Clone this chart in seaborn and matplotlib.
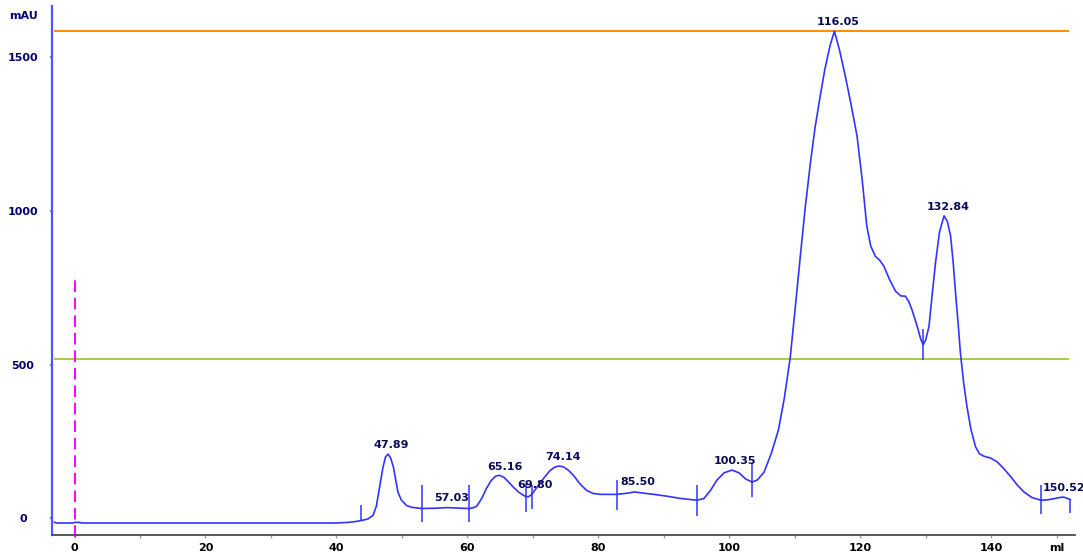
import numpy as np
import pandas as pd
import matplotlib
matplotlib.use("Agg")
import matplotlib.pyplot as plt
import seaborn as sns

# ---- chromatogram trace (ml, mAU) ----
volume_ml = [-3.1, -2.8, -0.2, 0.0, 0.8, 1.0, 20.0, 40.0, 41.8, 43.0, 43.8, 44.8, 45.6, 46.1,
             46.6, 47.1, 47.5, 47.9, 48.3, 48.7, 49.1, 49.4, 49.9, 50.7, 51.5, 53.0, 55.0,
             57.0, 59.0, 60.2, 60.8, 61.4, 62.2, 62.9, 63.6, 64.3, 64.9, 65.6, 66.3, 67.0,
             67.9, 68.8, 69.3, 69.8, 70.6, 71.6, 72.6, 73.3, 73.9, 74.6, 75.4, 76.2, 77.2,
             78.2, 79.2, 80.3, 82.8, 84.5, 85.5, 86.5, 88.5, 90.5, 92.5, 95.0, 96.1, 97.1,
             98.1, 99.2, 100.4, 101.5, 102.5, 103.5, 104.3, 105.3, 106.4, 107.5, 108.4,
             109.3, 110.1, 110.9, 111.6, 112.4, 113.1, 113.9, 114.6, 115.4, 116.05, 116.8,
             117.7, 118.6, 119.5, 120.3, 121.0, 121.6, 122.3, 123.0, 123.6, 124.5, 125.4,
             126.2, 126.9, 127.4, 127.9, 128.7, 129.2, 129.6, 130.0, 130.5, 131.0, 131.5,
             132.1, 132.8, 133.3, 133.8, 134.2, 134.6, 135.0, 135.3, 135.8, 136.3, 136.9,
             137.6, 138.2, 138.9, 139.9, 140.9, 142.0, 143.0, 144.0, 145.0, 146.2, 147.6,
             148.5, 149.6, 150.5, 151.1, 151.5, 152.1]
absorb_mau = [-12, -15, -15, -13, -13, -15, -15, -15, -13, -10, -7, -2, 10, 40,
              102, 165, 200, 209, 195, 167, 120, 85, 60, 42, 36, 32, 33,
              35, 33, 32, 34, 39, 65, 97, 122, 137, 140, 133, 118, 102,
              84, 72, 70, 77, 100, 129, 155, 166, 170, 168, 157, 140, 112,
              91, 81, 78, 78, 82, 86, 83, 78, 72, 65, 59, 64, 90,
              124, 148, 157, 148, 128, 118, 125, 150, 210, 287, 390,
              521, 690, 863, 1010, 1157, 1270, 1374, 1460, 1537, 1583, 1525,
              1439, 1345, 1244, 1100, 950, 885, 852, 838, 820, 775, 738,
              723, 722, 705, 678, 624, 585, 564, 580, 624, 730, 831,
              930, 983, 965, 918, 830, 722, 620, 537, 440, 363, 290,
              233, 210, 202, 196, 184, 160, 135, 108, 86, 68, 59,
              60, 64, 68, 69, 66, 61]

# ---- peak labels ----
peak_labels = ["47.89", "57.03", "65.16", "69.80", "74.14", "85.50", "100.35",
               "116.05", "132.84", "150.52"]
peak_ml = [47.89, 57.03, 65.16, 69.80, 74.14, 85.50, 100.35, 116.05, 132.84, 150.52]

# ---- fraction / integration marks ----
mark_ml = [43.8, 53.0, 60.2, 68.9, 69.9, 82.9, 95.0, 103.5, 129.6, 147.6, 152.1]
mark_up = [50, 75, 75, 40, 30, 45, 50, 60, 50, 50, 0]
mark_down = [0, 45, 45, 50, 50, 50, 50, 50, 50, 45, 45]

# ---- reference lines ----
orange_level = 1585
green_level = 518
injection_ml = 0
injection_top = 781

x_ticks = [0, 20, 40, 60, 80, 100, 120, 140, 150]
x_tick_labels = ["0", "20", "40", "60", "80", "100", "120", "140", "ml"]
x_minor = [10, 30, 50, 70, 90, 110, 130]
y_ticks = [0, 500, 1000, 1500]
y_tick_labels = ["0", "500", "1000", "1500"]

sns.set_theme(style="white")
plt.rcParams["font.family"] = ["DejaVu Sans"]

W, H = 1083, 556
fig = plt.figure(figsize=(W / 100, H / 100), dpi=100)
ax = fig.add_axes([52 / W, 1 - 535 / H, (1075 - 52) / W, (535 - 6) / H])

curve_color = "#3333ff"
df = pd.DataFrame({"ml": volume_ml, "mAU": absorb_mau})

ax.hlines(orange_level, -3.1, 151.9, color="#ff8c00", lw=1.4, zorder=1)
ax.hlines(green_level, -3.1, 151.9, color="#a0d040", lw=1.4, zorder=1)
ax.plot([injection_ml, injection_ml], [-60, injection_top], color="#ff00ff",
        lw=1.4, dashes=(6, 3), zorder=1, clip_on=False)

sns.lineplot(data=df, x="ml", y="mAU", ax=ax, color=curve_color, lw=1.2,
             sort=False, estimator=None, zorder=3)

mx = np.array(mark_ml)
my = np.interp(mx, volume_ml, absorb_mau)
ax.vlines(mx, my - np.array(mark_down), my + np.array(mark_up), color=curve_color,
          lw=1.1, zorder=3)

label_color = "#0a0a55"
py = np.interp(peak_ml, volume_ml, absorb_mau)
for lab, xv, yv in zip(peak_labels, peak_ml, py):
    ax.annotate(lab, (xv, yv), xytext=(2.5, 6.8), textcoords="offset points",
                ha="center", va="center", fontsize=8, fontweight="bold",
                color=label_color, annotation_clip=False, zorder=4)

ax.set_xlim(-3.44, 152.8)
ax.set_ylim(-54, 1665)
ax.set_xlabel("")
ax.set_ylabel("")

ax.set_xticks(x_ticks)
ax.set_xticklabels(x_tick_labels, fontsize=8, fontweight="bold", color="black")
ax.set_xticks(x_minor, minor=True)
ax.set_yticks(y_ticks)
ax.set_yticklabels(y_tick_labels, fontsize=8, fontweight="bold", color="#000070")
for t in ax.get_yticklabels():
    t.set_ha("center")

ax.tick_params(axis="x", which="both", bottom=True, length=2.5, width=1,
               color="#9a9a9a", pad=3, direction="out")
ax.tick_params(axis="y", left=True, length=1.5, width=1.2, color="#5555ff",
               pad=19.5, direction="out")

for s in ["top", "right"]:
    ax.spines[s].set_visible(False)
ax.spines["left"].set_color("#5555ff")
ax.spines["left"].set_linewidth(1.6)
ax.spines["bottom"].set_color("#4a4a4a")
ax.spines["bottom"].set_linewidth(1.3)

ax.annotate("mAU", (0, 1632), xycoords=("axes fraction", "data"),
            xytext=(-20.5, 0), textcoords="offset points", ha="center",
            va="center", fontsize=8, fontweight="bold", color="#000070",
            annotation_clip=False)

fig.savefig("out.png", dpi=100, facecolor="white")
